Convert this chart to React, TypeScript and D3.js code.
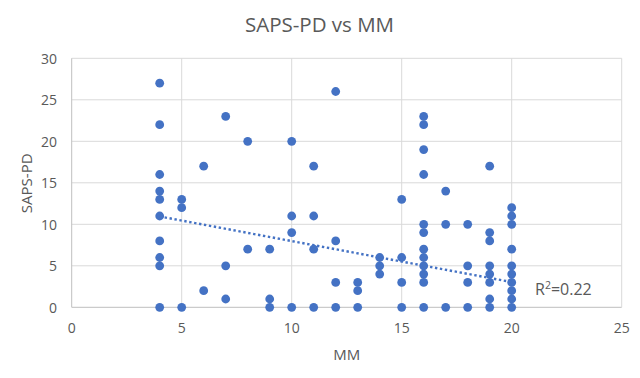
import React from "react";
import * as d3 from "d3";

// Data: paired MM (x) and SAPS-PD (y) values
const mm: number[] = [
  4, 4, 4, 4, 4, 4, 4, 4, 4, 4,
  5, 5, 5,
  6, 6,
  7, 7, 7,
  8, 8,
  9, 9, 9,
  10, 10, 10, 10,
  11, 11, 11, 11,
  12, 12, 12, 12,
  13, 13, 13,
  14, 14, 14,
  15, 15, 15, 15,
  16, 16, 16, 16, 16, 16, 16, 16, 16, 16, 16, 16,
  17, 17, 17,
  18, 18, 18, 18,
  19, 19, 19, 19, 19, 19, 19, 19,
  20, 20, 20, 20, 20, 20, 20, 20, 20, 20,
];
const sapsPd: number[] = [
  27, 22, 16, 14, 13, 11, 8, 6, 5, 0,
  13, 12, 0,
  17, 2,
  23, 5, 1,
  20, 7,
  7, 1, 0,
  20, 11, 9, 0,
  17, 11, 7, 0,
  26, 8, 3, 0,
  3, 2, 0,
  6, 5, 4,
  13, 6, 3, 0,
  23, 22, 19, 16, 10, 9, 7, 6, 5, 4, 3, 0,
  14, 10, 0,
  10, 5, 3, 0,
  17, 9, 8, 5, 4, 3, 1, 0,
  12, 11, 10, 7, 5, 4, 3, 2, 1, 0,
];

// Linear trendline and its range
const trendSlope = -0.494;
const trendIntercept = 12.92;
const trendRange: number[] = [4, 20];
const rSquaredLabel = "0.22";

const xTicks: number[] = [0, 5, 10, 15, 20, 25];
const yTicks: number[] = [0, 5, 10, 15, 20, 25, 30];

const title = "SAPS-PD vs MM";
const xTitle = "MM";
const yTitle = "SAPS-PD";

const W = 640;
const H = 378;
const BLUE = "#4472C4";
const TEXT = "#595959";
const GRID = "#D9D9D9";
const FONT = "'Open Sans', 'Noto Sans', sans-serif";

export default function App() {
  const x = d3.scaleLinear().domain([0, 25]).range([71.7, 621.7]);
  const y = d3.scaleLinear().domain([0, 30]).range([307.3, 58.3]);

  const trendLine = d3
    .line<number>()
    .x((d) => x(d))
    .y((d) => y(trendIntercept + trendSlope * d));

  return (
    <svg
      width={W}
      height={H}
      style={{ position: "absolute", left: 0, top: 0, background: "#fff" }}
      fontFamily={FONT}
    >
      <rect x={0} y={0} width={W} height={H} fill="#fff" />
      {/* horizontal gridlines */}
      {yTicks.map((t) => (
        <line
          key={"h" + t}
          x1={x(0)}
          x2={x(25)}
          y1={y(t)}
          y2={y(t)}
          stroke={t === 0 ? "#BFBFBF" : GRID}
          strokeWidth={1}
        />
      ))}
      {/* vertical gridlines */}
      {xTicks.map((t) => (
        <line
          key={"v" + t}
          x1={x(t)}
          x2={x(t)}
          y1={y(0)}
          y2={y(30)}
          stroke={t === 0 ? "#BFBFBF" : GRID}
          strokeWidth={1}
        />
      ))}
      {/* y tick labels */}
      {yTicks.map((t) => (
        <text
          key={"yl" + t}
          x={57}
          y={y(t) + 5.3}
          textAnchor="end"
          fontSize={14}
          fill={TEXT}
        >
          {t}
        </text>
      ))}
      {/* x tick labels */}
      {xTicks.map((t) => (
        <text
          key={"xl" + t}
          x={x(t)}
          y={333.3}
          textAnchor="middle"
          fontSize={14}
          fill={TEXT}
        >
          {t}
        </text>
      ))}
      {/* points */}
      {mm.map((v, i) => (
        <circle key={"p" + i} cx={x(v)} cy={y(sapsPd[i])} r={4.4} fill={BLUE} />
      ))}
      {/* trendline */}
      <path
        d={trendLine(trendRange) || ""}
        fill="none"
        stroke={BLUE}
        strokeWidth={2.4}
        strokeDasharray="2.4 2.6"
      />
      {/* R squared label */}
      <text x={535} y={295} fontSize={16} fill={TEXT}>
        R<tspan dy={-6} fontSize={10.5}>2</tspan>
        <tspan dy={6}>={rSquaredLabel}</tspan>
      </text>
      {/* title */}
      <text x={319.5} y={31.7} textAnchor="middle" fontSize={20.5} fill={TEXT}>
        {title}
      </text>
      {/* axis titles */}
      <text x={346.7} y={360} textAnchor="middle" fontSize={15} fill={TEXT}>
        {xTitle}
      </text>
      <text
        transform={`translate(32,183.3) rotate(-90)`}
        textAnchor="middle"
        fontSize={15}
        fill={TEXT}
      >
        {yTitle}
      </text>
    </svg>
  );
}
